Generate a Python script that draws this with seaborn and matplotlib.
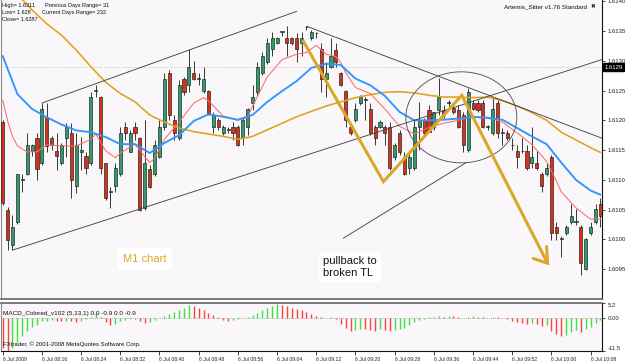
import matplotlib
matplotlib.use("Agg")
import matplotlib.pyplot as plt
import matplotlib.transforms as mtransforms
from matplotlib.patches import Ellipse
import numpy as np
import pandas as pd
import seaborn as sns

# ---------------- data (M1 candles) ----------------
open_ = [
    1.61197, 1.61049, 1.60991, 1.61029, 1.61100, 1.61110, 1.61148, 1.61170, 1.61128, 1.61205,
    1.61170, 1.61148, 1.61128, 1.61170, 1.61179, 1.61090, 1.61147, 1.61140, 1.61128, 1.61249,
    1.61239, 1.61128, 1.61080, 1.61090, 1.61110, 1.61189, 1.61147, 1.61189, 1.61170, 1.61053,
    1.61118, 1.61110, 1.61138, 1.61189, 1.61279, 1.61200, 1.61170, 1.61269, 1.61259, 1.61279,
    1.61269, 1.61249, 1.61249, 1.61189, 1.61200, 1.61179, 1.61184, 1.61189, 1.61189, 1.61170,
    1.61189, 1.61229, 1.61247, 1.61279, 1.61298, 1.61319, 1.61330, 1.61348, 1.61338, 1.61338,
    1.61338, 1.61330, 1.61356, 1.61338, 1.61346, 1.61319, 1.61269, 1.61289, 1.61318, 1.61279,
    1.61249, 1.61189, 1.61200, 1.61229, 1.61234, 1.61219, 1.61189, 1.61189, 1.61189, 1.61189,
    1.61138, 1.61179, 1.61138, 1.61120, 1.61120, 1.61189, 1.61200, 1.61217, 1.61189, 1.61217,
    1.61217, 1.61229, 1.61220, 1.61217, 1.61209, 1.61150, 1.61229, 1.61229, 1.61229, 1.61189,
    1.61179, 1.61229, 1.61179, 1.61179, 1.61158, 1.61148, 1.61148, 1.61148, 1.61128, 1.61128,
    1.61110, 1.61110, 1.61138, 1.61021, 1.61001, 1.61011, 1.61029, 1.61029, 1.61021, 1.60950,
    1.61011, 1.61029, 1.61059]
high = [
    1.61200, 1.61054, 1.61041, 1.61110, 1.61110, 1.61179, 1.61160, 1.61179, 1.61229, 1.61229,
    1.61173, 1.61179, 1.61162, 1.61195, 1.61195, 1.61179, 1.61172, 1.61147, 1.61247, 1.61259,
    1.61241, 1.61128, 1.61088, 1.61128, 1.61189, 1.61197, 1.61184, 1.61197, 1.61172, 1.61200,
    1.61125, 1.61167, 1.61200, 1.61279, 1.61284, 1.61209, 1.61267, 1.61272, 1.61319, 1.61299,
    1.61279, 1.61289, 1.61251, 1.61214, 1.61204, 1.61192, 1.61189, 1.61197, 1.61192, 1.61205,
    1.61220, 1.61259, 1.61298, 1.61314, 1.61338, 1.61348, 1.61340, 1.61350, 1.61358, 1.61340,
    1.61346, 1.61348, 1.61358, 1.61351, 1.61348, 1.61330, 1.61298, 1.61338, 1.61330, 1.61281,
    1.61251, 1.61192, 1.61229, 1.61242, 1.61239, 1.61229, 1.61192, 1.61200, 1.61192, 1.61197,
    1.61162, 1.61184, 1.61147, 1.61147, 1.61200, 1.61231, 1.61204, 1.61225, 1.61214, 1.61271,
    1.61225, 1.61234, 1.61229, 1.61225, 1.61214, 1.61254, 1.61234, 1.61234, 1.61234, 1.61192,
    1.61239, 1.61234, 1.61187, 1.61184, 1.61170, 1.61158, 1.61170, 1.61158, 1.61189, 1.61148,
    1.61113, 1.61128, 1.61142, 1.61029, 1.61006, 1.61024, 1.61059, 1.61051, 1.61024, 1.61002,
    1.61029, 1.61059, 1.61069]
low = [
    1.61058, 1.60982, 1.60982, 1.61026, 1.61080, 1.61108, 1.61140, 1.61100, 1.61125, 1.61147,
    1.61150, 1.61116, 1.61125, 1.61138, 1.61069, 1.61078, 1.61116, 1.61110, 1.61125, 1.61239,
    1.61110, 1.61066, 1.61053, 1.61080, 1.61106, 1.61167, 1.61147, 1.61167, 1.61048, 1.61049,
    1.61086, 1.61106, 1.61137, 1.61184, 1.61200, 1.61167, 1.61167, 1.61242, 1.61247, 1.61267,
    1.61259, 1.61246, 1.61209, 1.61179, 1.61184, 1.61175, 1.61179, 1.61167, 1.61157, 1.61158,
    1.61175, 1.61217, 1.61242, 1.61276, 1.61294, 1.61308, 1.61328, 1.61341, 1.61308, 1.61326,
    1.61298, 1.61308, 1.61351, 1.61335, 1.61338, 1.61247, 1.61239, 1.61288, 1.61289, 1.61257,
    1.61189, 1.61175, 1.61197, 1.61225, 1.61200, 1.61175, 1.61158, 1.61187, 1.61158, 1.61116,
    1.61133, 1.61142, 1.61108, 1.61110, 1.61116, 1.61150, 1.61175, 1.61180, 1.61184, 1.61209,
    1.61204, 1.61220, 1.61210, 1.61187, 1.61147, 1.61147, 1.61217, 1.61214, 1.61187, 1.61184,
    1.61175, 1.61170, 1.61158, 1.61167, 1.61150, 1.61120, 1.61145, 1.61116, 1.61120, 1.61116,
    1.61080, 1.61106, 1.60999, 1.60999, 1.60970, 1.61007, 1.61026, 1.61024, 1.60940, 1.60949,
    1.61007, 1.61026, 1.61021]
close = [
    1.61061, 1.60999, 1.61021, 1.61110, 1.61100, 1.61158, 1.61158, 1.61118, 1.61219, 1.61157,
    1.61158, 1.61140, 1.61158, 1.61189, 1.61100, 1.61158, 1.61150, 1.61120, 1.61239, 1.61249,
    1.61120, 1.61069, 1.61080, 1.61120, 1.61179, 1.61179, 1.61179, 1.61179, 1.61049, 1.61128,
    1.61088, 1.61158, 1.61189, 1.61269, 1.61209, 1.61179, 1.61259, 1.61247, 1.61289, 1.61269,
    1.61269, 1.61269, 1.61212, 1.61209, 1.61189, 1.61189, 1.61184, 1.61179, 1.61158, 1.61200,
    1.61219, 1.61239, 1.61289, 1.61308, 1.61330, 1.61338, 1.61338, 1.61348, 1.61330, 1.61330,
    1.61319, 1.61338, 1.61356, 1.61348, 1.61346, 1.61269, 1.61279, 1.61308, 1.61298, 1.61259,
    1.61200, 1.61179, 1.61219, 1.61239, 1.61234, 1.61179, 1.61170, 1.61197, 1.61179, 1.61120,
    1.61158, 1.61147, 1.61110, 1.61138, 1.61189, 1.61200, 1.61179, 1.61180, 1.61214, 1.61239,
    1.61209, 1.61229, 1.61214, 1.61189, 1.61158, 1.61247, 1.61219, 1.61217, 1.61189, 1.61189,
    1.61219, 1.61179, 1.61179, 1.61170, 1.61158, 1.61138, 1.61148, 1.61120, 1.61138, 1.61120,
    1.61090, 1.61120, 1.61011, 1.61011, 1.61001, 1.61021, 1.61039, 1.61029, 1.60960, 1.61001,
    1.61021, 1.61051, 1.61039]

# moving averages (sampled at candle indices)
ma_idx = list(range(0, 121, 3)) + [122]
ma_blue = [
    1.61308, 1.61244, 1.61219, 1.61205, 1.61193, 1.61183, 1.61180, 1.61172, 1.61160, 1.61160,
    1.61145, 1.61162, 1.61175, 1.61199, 1.61210, 1.61206, 1.61201, 1.61209, 1.61231, 1.61249,
    1.61266, 1.61288, 1.61295, 1.61293, 1.61270, 1.61259, 1.61241, 1.61214, 1.61200, 1.61200,
    1.61201, 1.61203, 1.61206, 1.61204, 1.61201, 1.61187, 1.61173, 1.61160, 1.61129, 1.61100,
    1.61082, 1.61075]
ma_gold = [
    1.61439, 1.61412, 1.61385, 1.61362, 1.61343, 1.61318, 1.61290, 1.61264, 1.61245, 1.61231,
    1.61209, 1.61197, 1.61187, 1.61181, 1.61177, 1.61173, 1.61168, 1.61173, 1.61184, 1.61195,
    1.61206, 1.61215, 1.61224, 1.61231, 1.61238, 1.61243, 1.61247, 1.61248, 1.61246, 1.61242,
    1.61239, 1.61239, 1.61238, 1.61239, 1.61233, 1.61224, 1.61213, 1.61200, 1.61180, 1.61167,
    1.61154, 1.61146]
red_idx = [0, 1, 2, 3, 5, 7, 9, 12, 15, 18, 19, 21, 23, 24, 27, 29, 30, 31, 33, 36, 39, 41, 42,
           45, 48, 50, 51, 54, 57, 60, 62, 63, 64, 66, 68, 69, 70, 72, 75, 78, 81, 84, 87, 90,
           93, 96, 99, 102, 105, 108, 111, 113, 114, 117, 120, 122]
ma_red = [
    1.61234, 1.61199, 1.61173, 1.61157, 1.61147, 1.61147, 1.61159,
    1.61157, 1.61157, 1.61168, 1.61177,
    1.61149, 1.61137, 1.61145, 1.61160,
    1.61139, 1.61129, 1.61136, 1.61168,
    1.61197, 1.61229, 1.61238, 1.61233,
    1.61207, 1.61200, 1.61205, 1.61224,
    1.61273, 1.61302, 1.61311, 1.61314,
    1.61320, 1.61326, 1.61311, 1.61307,
    1.61297, 1.61280, 1.61255, 1.61245,
    1.61219, 1.61190, 1.61177, 1.61188,
    1.61195, 1.61200, 1.61206, 1.61205,
    1.61197, 1.61179, 1.61159, 1.61131,
    1.61098, 1.61080, 1.61053, 1.61034,
    1.61034]

# MACD histogram
macd = [
    -10.5, -11.5, -10.4, -8.3, -6.2, -4.7, -3.3, -2.3, -1.2, -1.0,
    -0.8, -1.0, -1.2, -0.9, -1.1, -1.3, -0.9, -0.5, 0.3, 1.8,
    0.2, -1.5, -2.4, -2.0, -1.2, -0.6, -0.3, -0.5, -1.2, -1.8,
    -1.3, -0.6, 0.0, 0.8, 1.5, 2.2, 2.8, 3.4, 4.4, 4.2,
    3.6, 2.8, 1.8, 1.0, 0.2, -0.6, -1.0, -0.8, -0.4, -0.1,
    0.4, 1.0, 1.8, 2.8, 3.6, 4.3, 4.8, 4.6, 4.0, 3.5,
    3.1, 2.6, 2.1, 1.4, 0.8, 0.3, 0.1, 0.2, -0.2, -2.0,
    -3.5, -4.6, -4.2, -3.8, -3.9, -4.3, -4.4, -4.0, -4.1, -4.5,
    -4.2, -3.9, -3.4, -2.6, -1.5, -0.6, -0.2, 0.2, 0.4, 0.6,
    0.5, 0.7, 0.6, 0.3, -0.1, 0.4, 0.6, 0.5, 0.3, 0.1,
    0.3, 0.2, -0.1, -0.5, -0.9, -1.4, -1.6, -2.0, -1.8, -2.2,
    -2.8, -2.5, -4.5, -5.6, -6.3, -5.8, -4.9, -4.2, -5.0, -4.0,
    -3.0, -1.8, -0.8]

# trend lines / drawings (candle index, price)
upper_tl_x, upper_tl_y = [8, 60], [1.61229, 1.61383]
lower_tl_x, lower_tl_y = [2, 122.3], [1.60982, 1.61302]
desc_tl_x, desc_tl_y = [62, 122.3], [1.61358, 1.61170]
short_tl_x, short_tl_y = [69.5, 94.6], [1.61002, 1.61129]
zig_x, zig_y = [61.2, 77.7, 93.7, 111.2], [1.61335, 1.61097, 1.61242, 1.60960]
arrow_x1, arrow_y1 = [108.3, 111.2, 111.0], [1.60968, 1.60960, 1.60988]
circle_c, circle_w, circle_h = (93.6, 1.61205), 22.65, 0.001528
bid_price = 1.61289

tick_idx = list(range(0, 121, 8))
time_labels = ["6 Jul 2009", "6 Jul 08:16", "6 Jul 08:24", "6 Jul 08:32", "6 Jul 08:40",
               "6 Jul 08:48", "6 Jul 08:56", "6 Jul 09:04", "6 Jul 09:12", "6 Jul 09:20",
               "6 Jul 09:28", "6 Jul 09:36", "6 Jul 09:44", "6 Jul 09:52", "6 Jul 10:00",
               "6 Jul 10:08"]
price_ticks = [1.6095, 1.6100, 1.6105, 1.6110, 1.6115, 1.6120, 1.6125, 1.6130, 1.6135, 1.6140]

# ---------------- figure ----------------
sns.set_style("white")
plt.rcParams['font.family'] = ['Liberation Sans', 'DejaVu Sans']

W, H = 625, 363
fig = plt.figure(figsize=(6.25, 3.63), dpi=100)
fig.patch.set_facecolor("white")

def fx(x):
    return x / W

def fy(y):
    return 1 - y / H

bg = "#f9f7f9"
ax = fig.add_axes([fx(1), fy(299), 601 / W, 299 / H])
ax2 = fig.add_axes([fx(1), fy(351), 601 / W, 48 / H])
for a in (ax, ax2):
    a.set_facecolor(bg)
    a.set_xlim(-0.347, 122.31)

df = pd.DataFrame(dict(idx=np.arange(len(open_)), o=open_, h=high, l=low, c=close))
bull = df.c >= df.o
body_col = np.where(bull, "#2f9c6c", "#d3321b")
bottoms = np.minimum(df.o, df.c)
heights = np.maximum((df.c - df.o).abs(), 1.3e-5)

ax.axhline(bid_price, color="#cdc5b5", lw=0.6, ls=(0, (1.5, 1.5)), zorder=1)
ax.vlines(df.idx, df.l, df.h, color="#2a2a2a", lw=0.65, zorder=3)
ax.bar(df.idx, heights, bottom=bottoms, width=0.62, color=body_col,
       edgecolor="#1a1a1a", linewidth=0.45, zorder=4)

sns.lineplot(x=ma_idx, y=ma_gold, ax=ax, color="#dfa21e", lw=1.15, zorder=5, legend=False)
sns.lineplot(x=red_idx, y=ma_red, ax=ax, color="#ff6b6b", lw=0.75, zorder=5, legend=False)
sns.lineplot(x=ma_idx, y=ma_blue, ax=ax, color="#2f95ff", lw=1.35, zorder=5, legend=False)

tl_col = "#454545"
for xs, ys in [(upper_tl_x, upper_tl_y), (lower_tl_x, lower_tl_y),
               (desc_tl_x, desc_tl_y), (short_tl_x, short_tl_y)]:
    ax.plot(xs, ys, color=tl_col, lw=0.65, zorder=6)
ax.add_patch(Ellipse(circle_c, circle_w, circle_h, fill=False, ec="#555555", lw=0.65, zorder=6))

zig_col = "#dca629"
ax.plot(zig_x, zig_y, color=zig_col, lw=2.2, zorder=7, solid_capstyle="butt", solid_joinstyle="miter")
ax.plot(arrow_x1, arrow_y1, color=zig_col, lw=2.2, zorder=7, solid_joinstyle="miter")

ax.set_ylim(1.60900, 1.61402)
ax.yaxis.tick_right()
ax.set_yticks(price_ticks)
ax.set_yticklabels([f"{v:.4f}" for v in price_ticks])
ax.tick_params(axis="y", right=True, left=False, labelright=True, labelleft=False,
               length=2.5, width=0.6, labelsize=4.3, pad=1.5, colors="#222222", direction="out")
ax.set_xticks([])

# price box
trans = mtransforms.blended_transform_factory(ax.transAxes, ax.transData)
ax.text(1.004, bid_price, f"{bid_price:.4f}"[:6], transform=trans, ha="left", va="center",
        fontsize=4.3, color="white", zorder=10, clip_on=False,
        bbox=dict(boxstyle="square,pad=0.25", fc="black", ec="black"))

# MACD panel
mcol = ["#ff4040" if (i == 0 or macd[i] <= macd[i - 1]) else "#3fe03f" for i in range(len(macd))]
ax2.axhline(0, color="#9a9a9a", lw=0.6, ls=(0, (1, 1.5)), zorder=1)
ax2.vlines(np.arange(len(macd)), 0, macd, colors=mcol, lw=1.0, zorder=3)
ax2.set_ylim(-11.5, 5.2)
ax2.yaxis.tick_right()
ax2.set_yticks([5.2, 0, -11.5])
ax2.set_yticklabels(["5.2", "0.00", "-11.5"])
ax2.tick_params(axis="y", right=True, left=False, labelright=True, labelleft=False,
                length=2.5, width=0.6, labelsize=4.3, pad=1.5, colors="#222222")
labs = ax2.get_yticklabels()
labs[0].set_va("top")
labs[2].set_va("bottom")
ax2.set_xticks(tick_idx)
ax2.set_xticklabels(time_labels, fontsize=3.7, ha="left")
ax2.tick_params(axis="x", bottom=True, length=3, width=0.6, pad=1.2, colors="#222222", direction="out")

for a in (ax, ax2):
    for s in a.spines.values():
        s.set_visible(True)
    a.spines["left"].set_color("#8a8a8a")
    a.spines["left"].set_linewidth(0.8)
    a.spines["right"].set_color("#111111")
    a.spines["right"].set_linewidth(0.8)
ax.spines["top"].set_visible(False)
ax.spines["bottom"].set_color("#666666")
ax.spines["bottom"].set_linewidth(1.2)
ax2.spines["top"].set_color("#666666")
ax2.spines["top"].set_linewidth(1.2)
ax2.spines["bottom"].set_color("#111111")
ax2.spines["bottom"].set_linewidth(0.8)

# texts
small = dict(fontsize=4.0, va="center", ha="left", color="#111111")
fig.text(fx(2), fy(5), "High= 1.6311", **small)
fig.text(fx(45), fy(5), "Previous Days Range= 31", **small)
fig.text(fx(2), fy(12.5), "Low= 1.628", **small)
fig.text(fx(41.7), fy(12.5), "Current Days Range= 232", **small)
fig.text(fx(2), fy(19.5), "Close= 1.6287", **small)
fig.text(fx(587), fy(7), "Artemis_Sitter v1.76 Standard", fontsize=4.5, ha="right", va="center", color="#111111")
fig.text(fx(593), fy(7), "✖", fontsize=4, ha="center", va="center", color="#222222",
         family=["DejaVu Sans"])
fig.text(fx(3), fy(313), "MACD_Colored_v102 (5,13,1) 0.0 -0.9 0.0 -0.9", fontsize=4.6,
         ha="left", va="center", color="#111111")
fig.text(fx(3), fy(344), "FXtrader, © 2001-2008 MetaQuotes Software Corp.", fontsize=4.3,
         ha="left", va="center", color="#111111")
fig.text(fx(123), fy(259), "M1 chart", fontsize=8, ha="left", va="center", color="#e0a42c",
         bbox=dict(boxstyle="square,pad=0.5", fc="white", ec="none"), zorder=20)
fig.text(fx(323), fy(267), "pullback to\nbroken TL", fontsize=8, ha="left", va="center",
         color="#111111", linespacing=1.2,
         bbox=dict(boxstyle="square,pad=0.4", fc="white", ec="none"), zorder=20)

fig.savefig("out.png", dpi=100, facecolor="white")
